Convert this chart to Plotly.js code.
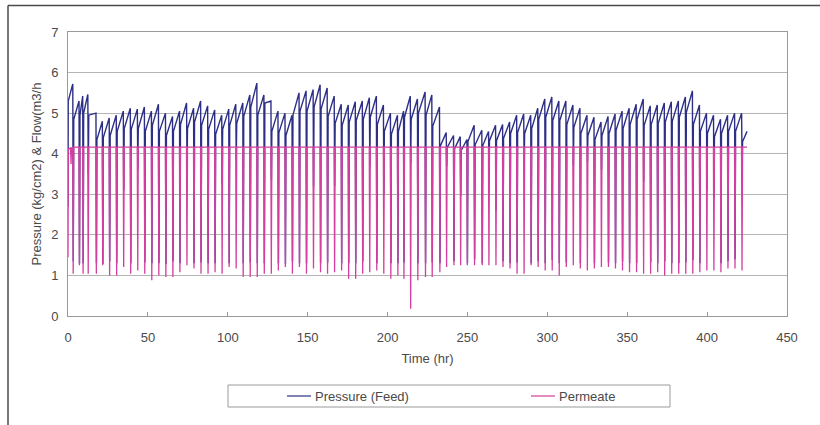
<!DOCTYPE html>
<html><head><meta charset="utf-8">
<script src="https://cdn.plot.ly/plotly-3.0.1.min.js"></script>
<style>html,body{margin:0;padding:0;background:#fff}#chart{width:820px;height:425px}</style>
</head><body><div id="chart"></div>
<script>
// ---- data ----
const dropTime = [3.0,6.9,9.2,12.4,17.5,21.5,25.8,30.2,34.6,39.0,43.4,47.8,52.2,56.6,61.0,65.4,69.8,74.2,78.6,83.0,87.4,91.8,96.2,100.6,105.0,109.4,113.8,118.2,122.6,127.0,131.4,135.8,140.2,144.6,149.0,153.4,157.8,162.2,166.6,171.0,175.4,179.8,184.2,188.6,193.0,197.4,201.8,206.2,210.0,214.2,218.7,223.5,227.7,232.5,236.7,241.3,245.5,249.7,254.2,259.0,263.2,267.6,272.0,276.4,280.8,285.2,289.6,294.0,298.4,302.8,307.2,311.6,316.0,320.4,324.8,329.2,333.6,338.0,342.4,346.8,351.2,355.6,360.0,364.4,368.8,373.2,377.6,382.0,386.4,390.8,395.2,399.6,404.0,408.4,412.8,417.2,421.6];
const peakP = [5.72,5.30,5.42,5.46,5.00,4.80,4.88,4.95,5.05,5.12,
  5.10,5.15,5.05,5.22,5.00,4.92,5.05,5.25,5.12,5.30,
  5.18,5.08,4.95,5.10,5.22,5.25,5.45,5.74,5.45,5.30,
  5.05,5.00,4.95,5.50,5.55,5.58,5.70,5.62,5.42,5.22,
  5.20,5.28,5.30,5.38,5.42,5.20,5.00,4.95,5.05,5.42,
  5.35,5.52,5.45,5.15,4.52,4.45,4.42,4.35,4.70,4.58,
  4.55,4.70,4.72,4.78,4.95,4.98,4.95,5.12,5.35,5.40,
  5.30,5.30,5.20,5.12,4.95,4.90,4.78,4.92,4.98,5.05,
  5.12,5.22,5.35,5.18,5.20,5.25,5.28,5.30,5.40,5.55,
  5.20,5.00,4.95,4.85,4.95,5.00,5.00];
const startP = [5.30,4.85,4.95,5.00,4.95,4.35,4.40,4.45,4.55,4.62,
  4.60,4.62,4.55,4.70,4.55,4.45,4.55,4.72,4.62,4.78,
  4.70,4.60,4.48,4.60,4.70,4.75,4.92,5.15,4.95,5.25,
  4.55,4.52,4.45,4.95,5.05,5.05,5.15,5.10,4.92,4.75,
  4.70,4.78,4.82,4.85,4.90,4.72,4.55,4.48,4.55,4.90,
  4.85,5.00,4.95,4.68,4.20,4.15,4.12,4.08,4.30,4.22,
  4.20,4.32,4.32,4.38,4.50,4.52,4.50,4.62,4.85,4.90,
  4.82,4.82,4.72,4.65,4.50,4.45,4.35,4.45,4.50,4.58,
  4.62,4.72,4.85,4.70,4.72,4.75,4.78,4.80,4.90,5.02,
  4.72,4.55,4.50,4.42,4.50,4.55,4.55,4.30];
const minP = [1.35,1.30,1.30,3.50,1.30,1.28,1.35,1.30,3.10,1.30,
  3.60,1.32,1.30,1.30,1.28,1.35,1.30,3.50,1.30,1.32,
  1.30,1.30,3.25,1.30,3.85,1.30,1.32,1.30,1.30,3.35,
  1.30,1.28,1.35,1.30,1.30,3.20,1.30,1.32,3.20,1.30,
  1.30,1.30,1.35,3.70,1.30,3.00,1.30,1.30,1.32,3.77,
  1.30,1.30,1.32,1.30,3.70,1.35,2.97,1.30,1.40,1.30,
  3.60,2.60,1.35,1.30,1.32,3.70,1.30,1.35,1.30,1.38,
  1.30,1.32,3.70,1.30,3.80,1.30,3.60,1.32,1.30,1.35,
  1.30,1.30,3.30,1.32,1.30,1.35,1.30,1.30,1.32,1.38,
  1.30,3.10,2.90,1.30,1.35,1.40,3.60];
const pressureFirst = [0, 2.7];      // [time, value] first reading
const pressureLast = [425, 4.55];    // [time, value] last reading

const flowLevel = 4.16;
const flowMin = [1.04,1.25,1.04,1.04,1.04,1.25,1.00,1.00,1.21,1.04,
  1.12,1.04,0.88,1.00,0.96,0.96,1.08,1.25,1.17,1.04,
  1.04,1.08,1.04,1.21,1.17,0.96,0.96,0.96,1.04,1.04,
  1.12,1.21,1.04,1.21,1.04,1.17,1.08,1.04,1.08,1.12,
  0.92,0.92,1.04,1.08,1.12,1.04,0.92,1.00,
  0.92,0.18,0.88,0.96,0.96,1.08,1.21,1.25,1.25,1.25,
  1.25,1.25,1.25,1.25,1.21,1.17,1.04,1.04,1.25,1.21,
  1.12,1.12,1.00,1.21,1.25,1.17,1.12,1.17,1.21,1.21,
  1.17,1.12,1.08,1.08,1.04,1.04,1.08,1.00,1.04,1.04,
  1.04,1.04,1.08,1.12,1.12,1.08,1.17,1.17,1.12];
const flowStartT = [0, 0.2, 1.6, 1.9, 2.2];
const flowStartV = [1.45, 4.12, 4.14, 3.75, 4.14];
const flowEndT = 425;

const xTicks = [0,50,100,150,200,250,300,350,400,450];
const yTicks = [0,1,2,3,4,5,6,7];

// ---- build traces ----
const N = dropTime.length;
const px = [pressureFirst[0]], py = [pressureFirst[1]];
for (let i = 0; i < N; i++) {
  px.push(i === 0 ? 0.15 : dropTime[i-1] + 0.6); py.push(startP[i]);
  px.push(dropTime[i]); py.push(peakP[i]);
  px.push(dropTime[i] + 0.3); py.push(minP[i]);
}
px.push(dropTime[N-1] + 0.6); py.push(startP[N]);
px.push(pressureLast[0]); py.push(pressureLast[1]);

const fx = flowStartT.slice(), fy = flowStartV.slice();
for (let i = 0; i < N; i++) {
  fx.push(dropTime[i] - 0.05); fy.push(flowLevel);
  fx.push(dropTime[i] + 0.25); fy.push(flowMin[i]);
  fx.push(dropTime[i] + 0.6); fy.push(flowLevel);
}
fx.push(flowEndT); fy.push(flowLevel);

const font = "Liberation Sans, Arial, sans-serif";
const txt = '#4a4a4a';
const traces = [
  {x: px, y: py, type: 'scatter', mode: 'lines', name: 'Pressure (Feed)',
   line: {color: '#2d2f86', width: 1.4}, showlegend: false, hoverinfo: 'skip'},
  {x: fx, y: fy, type: 'scatter', mode: 'lines', name: 'Permeate',
   line: {color: '#d23f9f', width: 1.3}, showlegend: false, hoverinfo: 'skip'}
];

const X = v => (v - 68) / 719;       // pixel -> paper x
const Y = v => (316 - v) / 284;      // pixel -> paper y

const layout = {
  width: 820, height: 425,
  margin: {l: 68, r: 33, t: 32, b: 109},
  paper_bgcolor: '#fff', plot_bgcolor: '#fff',
  font: {family: font, size: 13, color: txt},
  xaxis: {
    range: [0, 450], tickvals: xTicks, ticktext: xTicks.map(String),
    showgrid: false, zeroline: false,
    showline: true, linecolor: '#9a9a9a', linewidth: 1, mirror: true,
    ticks: 'inside', ticklen: 4, tickcolor: '#9a9a9a',
    ticklabelstandoff: 9,
    tickfont: {family: font, size: 13, color: txt},
    title: {text: 'Time (hr)', font: {family: font, size: 13, color: txt}, standoff: 10}
  },
  yaxis: {
    range: [0, 7], tickvals: yTicks, ticktext: yTicks.map(String),
    showgrid: true, gridcolor: '#b4b4b4', gridwidth: 1, zeroline: false,
    showline: true, linecolor: '#9a9a9a', linewidth: 1, mirror: true,
    ticks: '', ticklen: 0,
    ticklabelstandoff: 6,
    tickfont: {family: font, size: 13, color: txt},
    title: {text: 'Pressure (kg/cm2) & Flow(m3/h', font: {family: font, size: 13, color: txt}, standoff: 6}
  },
  shapes: [
    {type: 'line', xref: 'paper', yref: 'paper', x0: X(8), x1: X(820), y0: Y(5.5), y1: Y(5.5), line: {color: '#4a4a4a', width: 1.5}},
    {type: 'line', xref: 'paper', yref: 'paper', x0: X(8), x1: X(8), y0: Y(5.5), y1: Y(425), line: {color: '#4a4a4a', width: 1.5}},
    {type: 'rect', xref: 'paper', yref: 'paper', x0: X(228), x1: X(670), y0: Y(385), y1: Y(407), line: {color: '#9a9a9a', width: 1}, fillcolor: 'rgba(0,0,0,0)'},
    {type: 'line', xref: 'paper', yref: 'paper', x0: X(287), x1: X(311), y0: Y(396), y1: Y(396), line: {color: '#2d2f86', width: 1.2}},
    {type: 'line', xref: 'paper', yref: 'paper', x0: X(531), x1: X(555), y0: Y(396), y1: Y(396), line: {color: '#d23f9f', width: 1.2}}
  ],
  annotations: [
    {xref: 'paper', yref: 'paper', x: X(313), y: Y(396), xanchor: 'left', yanchor: 'middle', showarrow: false,
     text: 'Pressure (Feed)', font: {family: font, size: 13, color: txt}},
    {xref: 'paper', yref: 'paper', x: X(557), y: Y(396), xanchor: 'left', yanchor: 'middle', showarrow: false,
     text: 'Permeate', font: {family: font, size: 13, color: txt}}
  ]
};

Plotly.newPlot('chart', traces, layout, {displayModeBar: false, staticPlot: true});
</script>
</body></html>
